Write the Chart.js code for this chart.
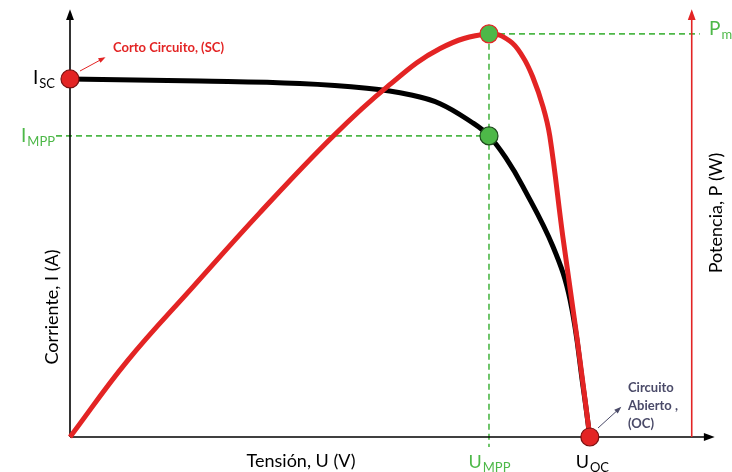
<!DOCTYPE html>
<html lang="es">
<head>
<meta charset="UTF-8">
<title>Curva I-V y P-V</title>
<style>
  html, body { margin: 0; padding: 0; background: #fff; }
  #wrap { width: 732px; height: 472px; }
</style>
</head>
<body>
<div id="wrap"><canvas id="grafico"></canvas></div>
<script src="https://cdn.jsdelivr.net/npm/chart.js"></script>
<script>
// tensión normalizada (Uoc = 1)
const tensionI = [0, 0.25, 0.442, 0.571, 0.654, 0.712, 0.775, 0.806, 0.84, 0.871, 0.929, 0.962, 0.988, 1.0];
// corriente normalizada (Isc = 1)
const corriente = [1.0, 0.994, 0.987, 0.974, 0.956, 0.931, 0.877, 0.841, 0.776, 0.7, 0.532, 0.383, 0.13, 0];

const tensionP = [0, 0.11, 0.237, 0.365, 0.506, 0.61, 0.712, 0.806,
  0.846, 0.871, 0.89, 0.91, 0.923, 0.948, 0.975, 1.0];
const potencia = [0, 0.212, 0.42, 0.626, 0.84, 0.978, 1.085, 1.126,
  1.106, 1.062, 1.006, 0.922, 0.84, 0.56, 0.28, 0];

// puntos notables
const Uoc = 1.0, Umpp = 0.806, Isc = 1.0, Impp = 0.841, Pm = 1.126;
const ejeP = 1.196; // posición del eje de potencia

const fuente = 'Lato, "Open Sans", sans-serif';
const verde = '#4db848';
const rojo = '#e32424';

function flecha(ctx, x1, y1, x2, y2, color, ancho, tam) {
  ctx.save();
  ctx.strokeStyle = color; ctx.fillStyle = color; ctx.lineWidth = ancho;
  ctx.beginPath(); ctx.moveTo(x1, y1); ctx.lineTo(x2, y2); ctx.stroke();
  const a = Math.atan2(y2 - y1, x2 - x1);
  ctx.beginPath();
  ctx.moveTo(x2 + Math.cos(a) * tam * 0.3, y2 + Math.sin(a) * tam * 0.3);
  ctx.lineTo(x2 - Math.cos(a - 0.45) * tam, y2 - Math.sin(a - 0.45) * tam);
  ctx.lineTo(x2 - Math.cos(a + 0.45) * tam, y2 - Math.sin(a + 0.45) * tam);
  ctx.closePath(); ctx.fill();
  ctx.restore();
}

function sub(ctx, base, s, x, y, color, tam, alin) {
  ctx.save();
  ctx.fillStyle = color;
  ctx.font = tam + 'px ' + fuente;
  const w1 = ctx.measureText(base).width;
  ctx.font = Math.round(tam * 0.7) + 'px ' + fuente;
  const w2 = ctx.measureText(s).width;
  let x0 = x;
  if (alin === 'center') x0 = x - (w1 + w2) / 2;
  if (alin === 'right') x0 = x - (w1 + w2);
  ctx.textAlign = 'left'; ctx.textBaseline = 'alphabetic';
  ctx.font = tam + 'px ' + fuente;
  ctx.fillText(base, x0, y);
  ctx.font = Math.round(tam * 0.7) + 'px ' + fuente;
  ctx.fillText(s, x0 + w1 + 1, y + tam * 0.2);
  ctx.restore();
}

const dibujo = {
  id: 'dibujo',
  beforeDatasetsDraw(chart) {
    const ctx = chart.ctx, sx = chart.scales.x, sy = chart.scales.y;
    const x0 = sx.getPixelForValue(0), y0 = sy.getPixelForValue(0);
    const xm = sx.getPixelForValue(Umpp), yi = sy.getPixelForValue(Impp), yp = sy.getPixelForValue(Pm);
    const xr = sx.getPixelForValue(ejeP);
    ctx.save();
    // líneas discontinuas
    ctx.strokeStyle = verde; ctx.lineWidth = 1.6; ctx.setLineDash([6, 4]);
    ctx.beginPath(); ctx.moveTo(56, yi); ctx.lineTo(xm, yi); ctx.stroke();
    ctx.beginPath(); ctx.moveTo(xm, yp); ctx.lineTo(xm, y0 + 10); ctx.stroke();
    ctx.beginPath(); ctx.moveTo(xm, yp); ctx.lineTo(xr + 8, yp); ctx.stroke();
    ctx.setLineDash([]);
    ctx.restore();
    // ejes
    flecha(ctx, x0, y0, x0, 12, '#000', 1.6, 9);
    flecha(ctx, x0, y0, 712, y0, '#000', 1.6, 9);
    flecha(ctx, xr, y0, xr, 12, rojo, 1.6, 9);
  },
  afterDatasetsDraw(chart) {
    const ctx = chart.ctx, sx = chart.scales.x, sy = chart.scales.y;
    const xm = sx.getPixelForValue(Umpp), yi = sy.getPixelForValue(Impp), yp = sy.getPixelForValue(Pm);
    const xo = sx.getPixelForValue(Uoc), ys = sy.getPixelForValue(Isc);
    ctx.save();
    ctx.fillStyle = '#000';
    ctx.font = '18px ' + fuente;
    ctx.textAlign = 'center';
    ctx.fillText('Tensión, U (V)', 301, 467);
    ctx.save();
    ctx.translate(58, 307); ctx.rotate(-Math.PI / 2);
    ctx.fillText('Corriente, I (A)', 0, 0);
    ctx.restore();
    ctx.save();
    ctx.translate(722, 213); ctx.rotate(-Math.PI / 2);
    ctx.fillText('Potencia, P (W)', 0, 0);
    ctx.restore();

    sub(ctx, 'I', 'SC', 54, ys + 5, '#000', 19, 'right');
    sub(ctx, 'I', 'MPP', 54, yi + 6, verde, 19, 'right');
    sub(ctx, 'U', 'MPP', xm, 468, verde, 18, 'center');
    sub(ctx, 'U', 'OC', xo + 2, 468, '#000', 18, 'center');
    sub(ctx, 'P', 'm', 709, yp + 1, verde, 19, 'left');

    ctx.font = 'bold 13px ' + fuente;
    ctx.fillStyle = rojo; ctx.textAlign = 'left';
    ctx.fillText('Corto Circuito, (SC)', 113, 52);
    flecha(ctx, 80, 71, 104, 58, rojo, 1, 6);

    ctx.fillStyle = '#4a4a68';
    ctx.fillText('Circuito', 628, 392);
    ctx.fillText('Abierto ,', 628, 410);
    ctx.fillText('(OC)', 628, 428);
    flecha(ctx, 598, 428, 620, 408, '#4a4a68', 1, 6);
    ctx.restore();
  }
};

const puntos = (xs, ys) => xs.map((v, i) => ({ x: v, y: ys[i] }));

new Chart(document.getElementById('grafico'), {
  type: 'scatter',
  data: {
    datasets: [
      {
        label: 'Puntos',
        data: [{ x: 0, y: Isc }, { x: Umpp, y: Impp }, { x: Umpp, y: Pm }, { x: Uoc, y: 0 }],
        showLine: false,
        pointRadius: 9,
        pointBackgroundColor: [rojo, verde, verde, rojo],
        pointBorderColor: ['#7a1010', '#1e4a1e', rojo, '#7a1010'],
        pointBorderWidth: 1.2,
        clip: false,
        order: 0
      },
      {
        label: 'Potencia',
        data: puntos(tensionP, potencia),
        showLine: true,
        borderColor: rojo,
        borderWidth: 5,
        pointRadius: 0,
        tension: 0.4,
        clip: false,
        order: 1
      },
      {
        label: 'Corriente',
        data: puntos(tensionI, corriente),
        showLine: true,
        borderColor: '#000',
        borderWidth: 5,
        pointRadius: 0,
        tension: 0.4,
        clip: false,
        order: 2
      }
    ]
  },
  options: {
    responsive: true,
    maintainAspectRatio: false,
    animation: false,
    layout: { padding: { left: 70, right: 20, top: 12, bottom: 35 } },
    scales: {
      x: { type: 'linear', min: 0, max: 1.235, display: false },
      y: { min: 0, max: 1.187, display: false }
    },
    plugins: { legend: { display: false }, tooltip: { enabled: false } }
  },
  plugins: [dibujo]
});
</script>
</body>
</html>
